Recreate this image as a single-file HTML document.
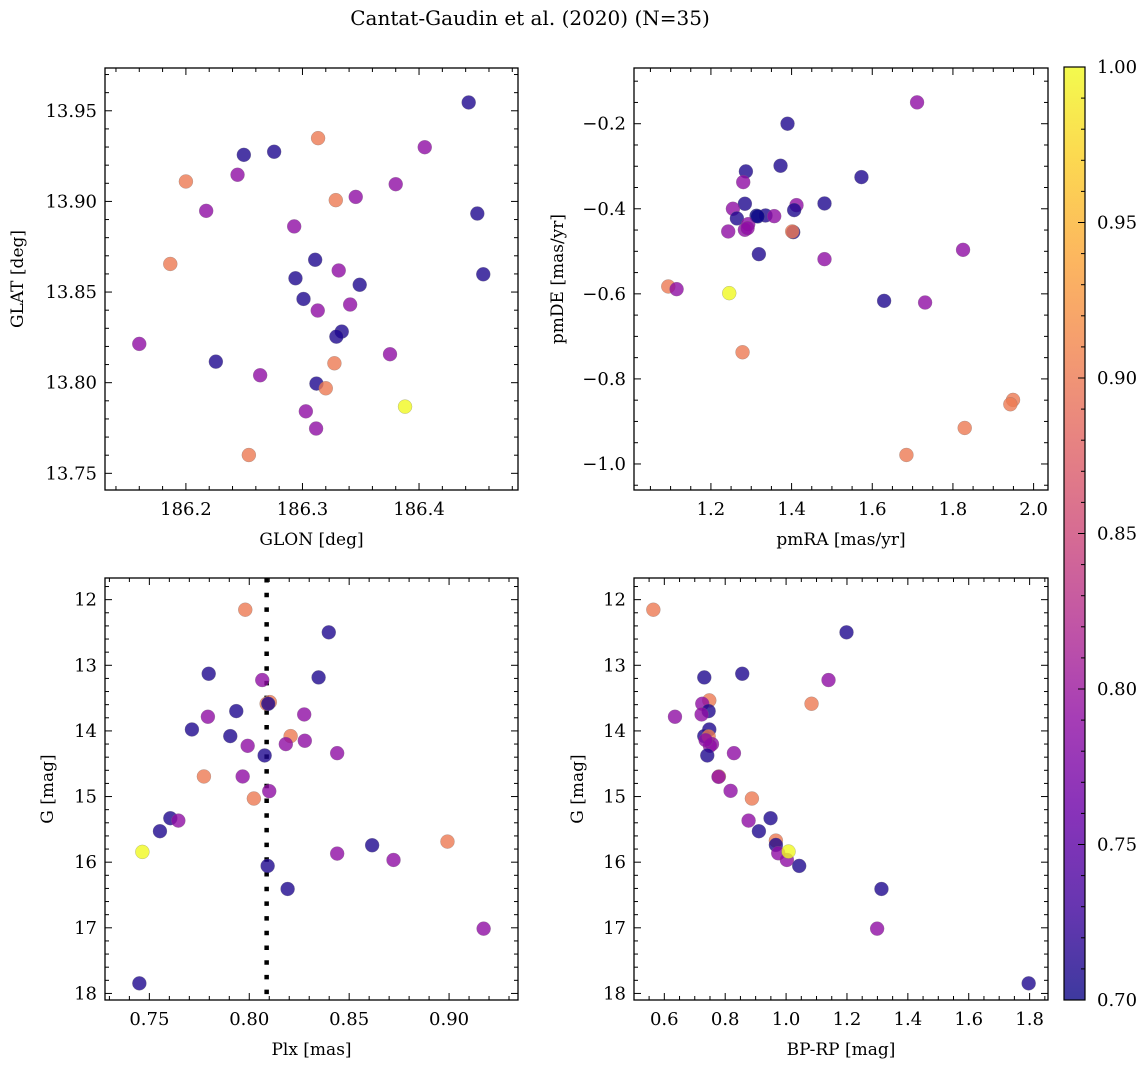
<!DOCTYPE html>
<html><head><meta charset="utf-8"><style>
html,body{margin:0;padding:0;background:#fff;}
svg text{font-family:"DejaVu Serif","Liberation Serif",serif;fill:#000;}
</style></head><body>
<svg id="fig" xmlns="http://www.w3.org/2000/svg" width="1148" height="1067" viewBox="0 0 1148 1067">
<rect width="1148" height="1067" fill="#fff"/>
<text x="530" y="25" font-size="20" text-anchor="middle">Cantat-Gaudin et al. (2020) (N=35)</text>
</svg>
<script>
// Panel 1: GLON vs GLAT
const p1x=[186.4426,186.3134,186.2497,186.2757,186.4049,186.2443,186.2,186.38,186.3286,186.3457,186.2174,186.45,186.2929,186.1866,186.3109,186.3311,186.294,186.3491,186.4551,186.3009,186.3409,186.3131,186.3337,186.3291,186.16,186.3751,186.2257,186.3274,186.2637,186.312,186.32,186.388,186.3029,186.3117,186.254];
const p1y=[13.9546,13.9349,13.9257,13.9274,13.9299,13.9147,13.911,13.9095,13.9007,13.9025,13.8948,13.8933,13.8862,13.8655,13.8678,13.8619,13.8576,13.854,13.8598,13.8462,13.8431,13.8398,13.8282,13.8254,13.8214,13.8157,13.8116,13.8107,13.8041,13.7995,13.7969,13.7868,13.7842,13.7747,13.7601];
const p1c=[0.71,0.9,0.71,0.71,0.79,0.79,0.9,0.79,0.9,0.79,0.79,0.71,0.79,0.9,0.71,0.79,0.71,0.71,0.71,0.71,0.79,0.79,0.71,0.71,0.79,0.79,0.71,0.9,0.79,0.71,0.9,1.0,0.79,0.79,0.9];
// Panel 2: pmRA vs pmDE
const p2x=[1.7111,1.3899,1.3726,1.5732,1.2867,1.2801,1.2842,1.4816,1.4122,1.4064,1.2545,1.2644,1.3131,1.3354,1.3569,1.2925,1.2842,1.2429,1.404,1.4015,1.3189,1.4816,1.8251,1.0943,1.1149,1.2454,1.6294,1.731,1.2784,1.949,1.9424,1.8292,1.6847,1.2908,1.316];
const p2y=[-0.1498,-0.2,-0.2988,-0.3255,-0.3122,-0.3373,-0.3882,-0.3875,-0.3914,-0.4031,-0.4,-0.4227,-0.4165,-0.4157,-0.4173,-0.4361,-0.4494,-0.4533,-0.4549,-0.4533,-0.5067,-0.5184,-0.4965,-0.5827,-0.589,-0.5984,-0.6165,-0.6204,-0.7373,-0.8494,-0.8596,-0.9153,-0.9788,-0.4455,-0.418];
const p2c=[0.79,0.71,0.71,0.71,0.71,0.79,0.71,0.71,0.79,0.71,0.79,0.71,0.7,0.71,0.79,0.79,0.79,0.79,0.71,0.9,0.71,0.79,0.79,0.9,0.79,1.0,0.71,0.79,0.9,0.9,0.9,0.9,0.9,0.79,0.7];
// Panel 3: Plx vs G
const p3x=[0.798,0.8398,0.7797,0.8347,0.8065,0.8103,0.8087,0.8095,0.7935,0.8275,0.7793,0.7713,0.7905,0.8207,0.7992,0.8183,0.8278,0.8077,0.844,0.7773,0.7967,0.81,0.8023,0.7605,0.7645,0.7553,0.7465,0.8992,0.8615,0.844,0.8722,0.8092,0.8192,0.9173,0.745];
const p3y=[12.153,12.498,13.129,13.185,13.225,13.561,13.586,13.586,13.698,13.749,13.784,13.978,14.079,14.079,14.227,14.201,14.15,14.374,14.339,14.694,14.694,14.918,15.03,15.33,15.366,15.528,15.843,15.686,15.742,15.869,15.966,16.057,16.408,17.013,17.846];
const p3c=[0.9,0.71,0.71,0.71,0.79,0.9,0.9,0.71,0.71,0.79,0.79,0.71,0.71,0.9,0.79,0.79,0.79,0.71,0.79,0.9,0.79,0.79,0.9,0.71,0.79,0.71,1.0,0.9,0.71,0.79,0.79,0.71,0.71,0.79,0.71];
// Panel 4: BP-RP vs G
const p4x=[0.5639,1.1985,0.7313,0.856,1.1394,1.0836,0.7477,0.7247,0.7455,0.7225,0.635,0.7477,0.7313,0.7455,0.7565,0.75,0.7411,0.8287,0.7794,0.778,0.8177,0.8877,0.949,0.8768,0.9107,0.9665,0.9665,0.9742,1.0026,1.0081,1.0431,1.3133,1.2991,1.7969,0.7357];
const p4y=[12.153,12.498,13.185,13.129,13.225,13.586,13.535,13.586,13.698,13.749,13.784,13.978,14.079,14.084,14.201,14.227,14.374,14.339,14.694,14.7,14.913,15.03,15.33,15.366,15.528,15.671,15.737,15.864,15.966,15.838,16.057,16.408,17.013,17.846,14.14];
const p4c=[0.9,0.71,0.71,0.71,0.79,0.9,0.9,0.79,0.71,0.79,0.79,0.71,0.71,0.9,0.79,0.79,0.71,0.79,0.9,0.79,0.79,0.9,0.71,0.79,0.71,0.9,0.71,0.79,0.79,1.0,0.71,0.71,0.79,0.71,0.79];
const plxRef=[0.8087];
const cbTicks=[0.70,0.75,0.80,0.85,0.90,0.95,1.00];

const NS='http://www.w3.org/2000/svg';
const svg=document.getElementById('fig');
function mk(tag,attrs,parent){const e=document.createElementNS(NS,tag);for(const k in attrs)e.setAttribute(k,attrs[k]);(parent||svg).appendChild(e);return e;}
const plasma=['#0d0887','#41049d','#6a00a8','#8f0da4','#b12a90','#cc4778','#e16462','#f2844b','#fca636','#fcce25','#f0f921'];
function hex(h){return [parseInt(h.substr(1,2),16),parseInt(h.substr(3,2),16),parseInt(h.substr(5,2),16)];}
function cmap(v){let t=Math.max(0,Math.min(1,(v-0.7)/0.3))*10;let i=Math.min(9,Math.floor(t));let f=t-i;const a=hex(plasma[i]),b=hex(plasma[i+1]);return 'rgb('+a.map((x,k)=>Math.round(x+(b[k]-x)*f)).join(',')+')';}
function range(a,b,s){const r=[];const n0=Math.ceil(a/s-1e-9),n1=Math.floor(b/s+1e-9);for(let n=n0;n<=n1;n++)r.push(+(n*s).toFixed(6));return r;}

function panel(o){
  const g=mk('g',{});
  
  
  const X=v=>o.L+(v-o.x0)/(o.x1-o.x0)*(o.R-o.L);
  const Y=v=>o.inv? o.T+(v-o.y0)/(o.y1-o.y0)*(o.B-o.T) : o.B-(v-o.y0)/(o.y1-o.y0)*(o.B-o.T);
  const ymin=Math.min(o.y0,o.y1),ymax=Math.max(o.y0,o.y1);
  if(o.vline){o.vline.forEach(v=>{const l=mk('line',{x1:X(v),x2:X(v),y1:o.T,y2:o.B,stroke:'#000','stroke-width':4.5,'stroke-dasharray':'4.5 10.2'},g);
    
    });}
  for(let i=0;i<o.xs.length;i++){
    const c=mk('circle',{cx:X(o.xs[i]),cy:Y(o.ys[i]),r:7,fill:cmap(o.cs[i]),'fill-opacity':0.8,stroke:'#777','stroke-opacity':0.5,'stroke-width':0.5},g);
    
    
  }
  const fr=mk('rect',{x:o.L,y:o.T,width:o.R-o.L,height:o.B-o.T,fill:'none',stroke:'#000','stroke-width':1.3},g);
  
  
  range(o.x0,o.x1,o.xmin).forEach(v=>{const x=X(v);const maj=Math.abs(v/o.xmaj-Math.round(v/o.xmaj))<1e-6;const len=maj?7:4;
    mk('line',{x1:x,x2:x,y1:o.B,y2:o.B-len,stroke:'#000','stroke-width':1},g);
    mk('line',{x1:x,x2:x,y1:o.T,y2:o.T+len,stroke:'#000','stroke-width':1},g);
    if(maj){const t=mk('text',{x:x,y:o.B+25,'font-size':18,'text-anchor':'middle'},g);t.textContent=v.toFixed(o.xdec);
      
      }
  });
  range(ymin,ymax,o.ymin).forEach(v=>{const y=Y(v);const maj=Math.abs(v/o.ymaj-Math.round(v/o.ymaj))<1e-6;const len=maj?7:4;
    mk('line',{x1:o.L,x2:o.L+len,y1:y,y2:y,stroke:'#000','stroke-width':1},g);
    mk('line',{x1:o.R,x2:o.R-len,y1:y,y2:y,stroke:'#000','stroke-width':1},g);
    if(maj){const t=mk('text',{x:o.L-8,y:y+6,'font-size':18,'text-anchor':'end'},g);t.textContent=(v<0?'\u2212':'')+Math.abs(v).toFixed(o.ydec);
      
      }
  });
  const xt=mk('text',{x:(o.L+o.R)/2,y:o.B+55,'font-size':17,'text-anchor':'middle'},g);xt.textContent=o.xlabel;
  
  
  const cy=(o.T+o.B)/2;
  const yt=mk('text',{x:o.ylx,y:cy,'font-size':17,'text-anchor':'middle',transform:'rotate(-90 '+o.ylx+' '+cy+')'},g);yt.textContent=o.ylabel;
  
  
}

panel({name:'glon-glat-panel',L:105,R:518,T:68,B:490,x0:186.1306,x1:186.4849,y0:13.7408,y1:13.9736,xmaj:0.1,xmin:0.02,ymaj:0.05,ymin:0.01,xdec:1,ydec:2,xs:p1x,ys:p1y,cs:p1c,xlabel:'GLON [deg]',ylabel:'GLAT [deg]',ylx:23});
panel({name:'proper-motion-panel',L:634,R:1048,T:68,B:490,x0:1.0093,x1:2.0357,y0:-1.0612,y1:-0.069,xmaj:0.2,xmin:0.05,ymaj:0.2,ymin:0.05,xdec:1,ydec:1,xs:p2x,ys:p2y,cs:p2c,xlabel:'pmRA [mas/yr]',ylabel:'pmDE [mas/yr]',ylx:563});
panel({name:'parallax-magnitude-panel',L:105,R:518,T:578,B:1000,x0:0.7278,x1:0.9345,y0:11.67,y1:18.1,inv:true,xmaj:0.05,xmin:0.01,ymaj:1,ymin:0.2,xdec:2,ydec:0,xs:p3x,ys:p3y,cs:p3c,xlabel:'Plx [mas]',ylabel:'G [mag]',ylx:53,vline:plxRef});
panel({name:'color-magnitude-panel',L:634,R:1048,T:578,B:1000,x0:0.5004,x1:1.8604,y0:11.67,y1:18.1,inv:true,xmaj:0.2,xmin:0.05,ymaj:1,ymin:0.2,xdec:1,ydec:0,xs:p4x,ys:p4y,cs:p4c,xlabel:'BP-RP [mag]',ylabel:'G [mag]',ylx:583});

(function(){
  const L=1064,R=1085,T=67,B=1000;
  const g=mk('g',{});
  
  
  const defs=mk('defs',{},g);
  const lg=mk('linearGradient',{id:'cbg',x1:0,y1:1,x2:0,y2:0},defs);
  plasma.forEach((c,i)=>mk('stop',{offset:(i/10),'stop-color':c,'stop-opacity':0.8},lg));
  mk('rect',{x:L,y:T,width:R-L,height:B-T,fill:'url(#cbg)',stroke:'#000','stroke-width':1.2},g);
  const Y=v=>B-(v-0.7)/0.3*(B-T);
  range(0.70,1.0,0.01).forEach(v=>{const maj=Math.abs(v*20-Math.round(v*20))<1e-6;
    mk('line',{x1:R,x2:R-(maj?7:4),y1:Y(v),y2:Y(v),stroke:'#000','stroke-width':1},g);});
  cbTicks.forEach(v=>{const t=mk('text',{x:R+12,y:Y(v)+6,'font-size':18},g);t.textContent=v.toFixed(2);
    
    });
})();
</script>
</body></html>
